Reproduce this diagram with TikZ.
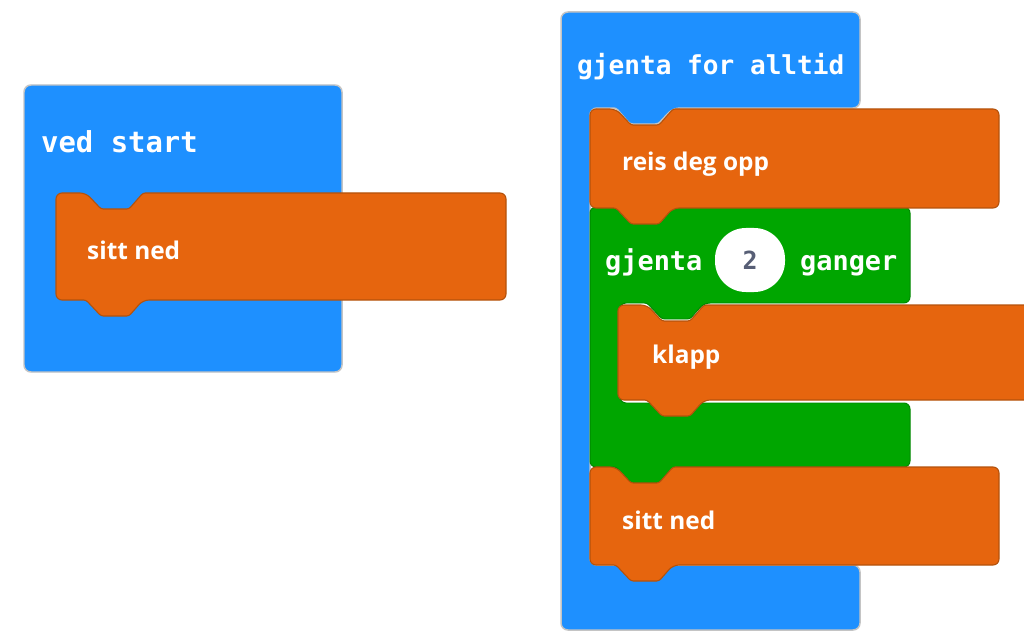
\documentclass[tikz,border=0pt]{standalone}
\usepackage{fontspec}
\setmainfont{Open Sans}
\newfontfamily\blkmono{DejaVu Sans Mono}
\definecolor{blkblue}{HTML}{1E90FF}
\definecolor{blkorange}{HTML}{E6650E}
\definecolor{blkorangeline}{HTML}{B4520C}
\definecolor{blkgreen}{HTML}{00A600}
\definecolor{blkgreenline}{HTML}{008800}
\definecolor{halo}{HTML}{C4C4C4}
\definecolor{numcol}{HTML}{575E75}
\tikzset{
  blueblk/.style={fill=blkblue, draw=halo, line width=1.5, rounded corners=7pt},
  orangeblk/.style={fill=blkorange, draw=blkorangeline, line width=1.1, rounded corners=6pt},
  greenblk/.style={fill=blkgreen, draw=blkgreenline, line width=1, rounded corners=6pt},
  monolbl/.style={anchor=base west, inner sep=0, text=white, font=\blkmono\bfseries\fontsize{#1}{#1}\selectfont},
  sanslbl/.style={anchor=base west, inner sep=0, text=white, font=\bfseries\fontsize{24.5}{26}\selectfont},
}
% statement block: x0,y0,x1,y1,a
\newcommand{\stmtblk}[5]{%
  \path[orangeblk] (#1,{(#2+#4)/2}) -- (#1,#2) -- ({#1+#5},#2) [rounded corners=2.5pt] -- ({#1+#5+15},{#2+16}) -- ({#1+#5+43},{#2+16}) -- ({#1+#5+57},#2) [rounded corners=6pt] -- (#3,#2) -- (#3,#4) -- ({#1+#5+57},#4) [rounded corners=2.5pt] -- ({#1+#5+43},{#4+16}) -- ({#1+#5+15},{#4+16}) -- ({#1+#5},#4) [rounded corners=6pt] -- (#1,#4) -- cycle;}
\begin{document}
\begin{tikzpicture}[x=1bp,y=-1bp]
\useasboundingbox (0,0) rectangle (1024,633);
\clip (0,0) rectangle (1024,633);
% ---------- left: ved start ----------
\path[blueblk] (24,200) -- (24,85) -- (342,85) -- (342,372) -- (24,372) -- cycle;
\node[monolbl=29] (vedstart) at (41,153) {ved start};
\stmtblk{56}{193}{506}{300}{30}
\node[sanslbl] (sittned1) at (87,260) {sitt ned};
% ---------- right: gjenta for alltid ----------
\path[blueblk] (561,300) -- (561,12) -- (860,12) -- (860,108) -- (673,108) [rounded corners=2.5pt] -- (658,124) -- (630,124) -- (616,108) [rounded corners=7pt] -- (590,108) -- (590,565) -- (860,565) -- (860,630) -- (561,630) -- cycle;
\node[monolbl=26.2] (forever) at (577,75) {gjenta for alltid};
% green repeat block
\path[greenblk] (590,300) -- (590,207) -- (616,207) [rounded corners=2.5pt] -- (631,223) -- (659,223) -- (673,207) [rounded corners=6pt] -- (910,207) -- (910,303) -- (704,303) [rounded corners=2.5pt] -- (690,319) -- (662,319) -- (647,303) [rounded corners=6pt] -- (620,303) -- (620,403) -- (910,403) -- (910,467) -- (673,467) [rounded corners=2.5pt] -- (659,483) -- (631,483) -- (616,467) [rounded corners=6pt] -- (590,467) -- cycle;
\node[monolbl=27] (gjenta) at (605,271) {gjenta};
\node[monolbl=27] (ganger) at (800,271) {ganger};
\path[fill=white, rounded corners=31pt] (715,228) rectangle (785,292);
\node[anchor=base, inner sep=0, text=numcol, font=\blkmono\bfseries\fontsize{25}{25}\selectfont] (two) at (750,270) {2};
% statements
\stmtblk{590}{109}{999}{208}{26}
\node[sanslbl] (reis) at (622,171) {reis deg opp};
\stmtblk{618}{305}{1040}{400}{29}
\node[sanslbl] (klapp) at (652,363) {klapp};
\stmtblk{590}{467}{999}{565}{26}
\node[sanslbl] (sittned2) at (622,529) {sitt ned};
\end{tikzpicture}
\end{document}
